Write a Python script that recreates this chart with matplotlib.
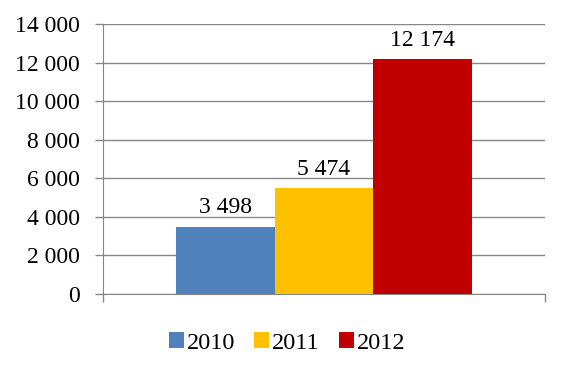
import matplotlib.pyplot as plt
from matplotlib.ticker import FuncFormatter

# Datos del gráfico
anios = ['2010', '2011', '2012']
valores = [3498, 5474, 12174]
colores = ['#4F81BD', '#FFC000', '#C00000']

plt.rcParams['font.family'] = ['Liberation Serif', 'DejaVu Serif']

fig = plt.figure(figsize=(5.68, 3.75), dpi=100)
ax = fig.add_axes([103 / 568, 1 - 294 / 375, 442 / 568, 270 / 375])

ancho = 0.2225
for i, (anio, valor, color) in enumerate(zip(anios, valores, colores)):
    x = (i - 1) * ancho
    ax.bar(x, valor, width=ancho, color=color, label=anio, zorder=3)
    ax.text(x, valor + 450, f'{valor:,}'.replace(',', ' '), ha='center', va='bottom',
            fontsize=17)

ax.set_xlim(-0.5, 0.5)
ax.set_ylim(0, 14000)
ax.set_yticks(range(0, 14001, 2000))
ax.yaxis.set_major_formatter(FuncFormatter(lambda v, p: f'{int(v):,}'.replace(',', ' ')))
ax.grid(axis='y', color='#868686', linewidth=1, zorder=0)
ax.tick_params(axis='y', length=5.8, width=1, color='#868686', labelsize=17, pad=10.8)

ax.set_xticks([-0.5, 0.5])
ax.set_xticklabels(['', ''])
ax.tick_params(axis='x', length=5.8, width=1, color='#868686')

for lado in ['top', 'right']:
    ax.spines[lado].set_visible(False)
for lado in ['left', 'bottom']:
    ax.spines[lado].set_color('#868686')

fig.legend(loc='center', bbox_to_anchor=(287 / 568, 1 - 343 / 375), ncol=3, frameon=False,
           fontsize=17.5, handlelength=0.62, handleheight=0.62, handletextpad=0.1,
           columnspacing=0.8)

fig.savefig('out.png', dpi=100)
